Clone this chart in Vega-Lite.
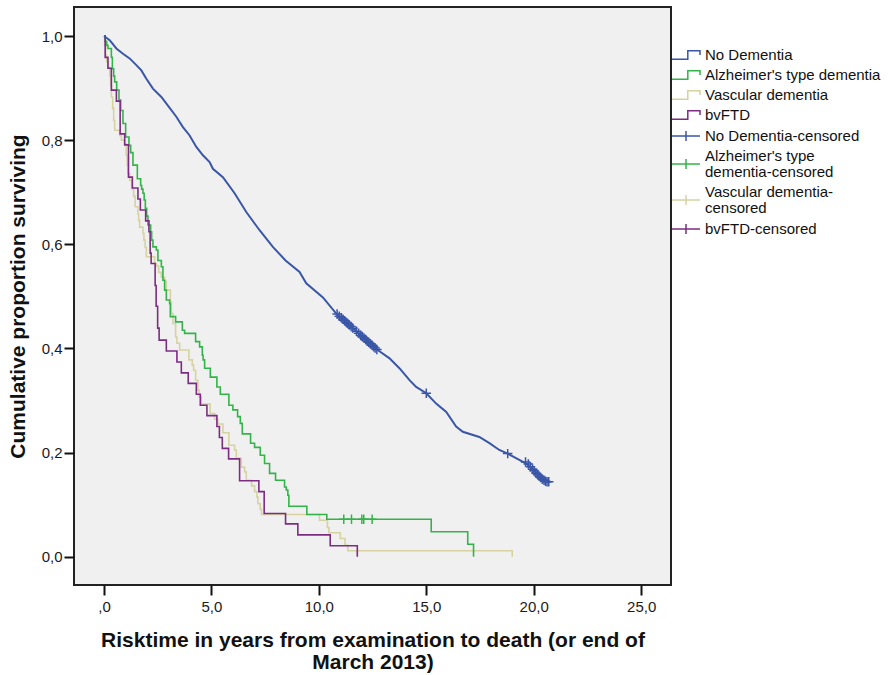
{
  "$schema": "https://vega.github.io/schema/vega-lite/v6.json",
  "autosize": {"type": "none"},
  "width": 597,
  "height": 578,
  "padding": {"left": 74, "top": 7, "right": 225, "bottom": 90},
  "background": "white",
  "config": {
    "view": {"fill": "#F0F0F0", "stroke": "#222222", "strokeWidth": 2},
    "font": "Liberation Sans",
    "axis": {
      "grid": false,
      "domain": false,
      "tickColor": "#111111",
      "tickWidth": 2,
      "tickSize": 10,
      "labelFont": "Liberation Sans",
      "labelFontSize": 15,
      "labelColor": "#1a1a1a",
      "titleFont": "Liberation Sans",
      "titleFontSize": 21,
      "titleFontWeight": "bold",
      "titleColor": "#111111"
    }
  },
  "datasets": {
    "curves": [
      {"grp": "Vascular dementia", "t": 0, "s": 1.0},
      {"grp": "Vascular dementia", "t": 0.033, "s": 0.982},
      {"grp": "Vascular dementia", "t": 0.079, "s": 0.963},
      {"grp": "Vascular dementia", "t": 0.126, "s": 0.950},
      {"grp": "Vascular dementia", "t": 0.186, "s": 0.940},
      {"grp": "Vascular dementia", "t": 0.265, "s": 0.924},
      {"grp": "Vascular dementia", "t": 0.312, "s": 0.905},
      {"grp": "Vascular dementia", "t": 0.344, "s": 0.883},
      {"grp": "Vascular dementia", "t": 0.405, "s": 0.861},
      {"grp": "Vascular dementia", "t": 0.451, "s": 0.838},
      {"grp": "Vascular dementia", "t": 0.498, "s": 0.819},
      {"grp": "Vascular dementia", "t": 0.730, "s": 0.809},
      {"grp": "Vascular dementia", "t": 0.809, "s": 0.800},
      {"grp": "Vascular dementia", "t": 0.963, "s": 0.793},
      {"grp": "Vascular dementia", "t": 1.033, "s": 0.771},
      {"grp": "Vascular dementia", "t": 1.079, "s": 0.752},
      {"grp": "Vascular dementia", "t": 1.116, "s": 0.736},
      {"grp": "Vascular dementia", "t": 1.195, "s": 0.723},
      {"grp": "Vascular dementia", "t": 1.288, "s": 0.707},
      {"grp": "Vascular dementia", "t": 1.381, "s": 0.692},
      {"grp": "Vascular dementia", "t": 1.451, "s": 0.672},
      {"grp": "Vascular dementia", "t": 1.581, "s": 0.658},
      {"grp": "Vascular dementia", "t": 1.614, "s": 0.646},
      {"grp": "Vascular dementia", "t": 1.660, "s": 0.633},
      {"grp": "Vascular dementia", "t": 1.814, "s": 0.621},
      {"grp": "Vascular dementia", "t": 1.860, "s": 0.608},
      {"grp": "Vascular dementia", "t": 1.916, "s": 0.594},
      {"grp": "Vascular dementia", "t": 1.972, "s": 0.576},
      {"grp": "Vascular dementia", "t": 2.358, "s": 0.563},
      {"grp": "Vascular dementia", "t": 2.437, "s": 0.558},
      {"grp": "Vascular dementia", "t": 2.544, "s": 0.546},
      {"grp": "Vascular dementia", "t": 2.670, "s": 0.537},
      {"grp": "Vascular dementia", "t": 2.823, "s": 0.529},
      {"grp": "Vascular dementia", "t": 2.902, "s": 0.512},
      {"grp": "Vascular dementia", "t": 3.088, "s": 0.489},
      {"grp": "Vascular dementia", "t": 3.135, "s": 0.467},
      {"grp": "Vascular dementia", "t": 3.209, "s": 0.448},
      {"grp": "Vascular dementia", "t": 3.335, "s": 0.422},
      {"grp": "Vascular dementia", "t": 3.395, "s": 0.410},
      {"grp": "Vascular dementia", "t": 3.521, "s": 0.397},
      {"grp": "Vascular dementia", "t": 3.953, "s": 0.378},
      {"grp": "Vascular dementia", "t": 4.112, "s": 0.368},
      {"grp": "Vascular dementia", "t": 4.172, "s": 0.358},
      {"grp": "Vascular dementia", "t": 4.265, "s": 0.339},
      {"grp": "Vascular dementia", "t": 4.372, "s": 0.320},
      {"grp": "Vascular dementia", "t": 4.428, "s": 0.307},
      {"grp": "Vascular dementia", "t": 4.530, "s": 0.293},
      {"grp": "Vascular dementia", "t": 4.940, "s": 0.275},
      {"grp": "Vascular dementia", "t": 5.149, "s": 0.264},
      {"grp": "Vascular dementia", "t": 5.302, "s": 0.255},
      {"grp": "Vascular dementia", "t": 5.535, "s": 0.238},
      {"grp": "Vascular dementia", "t": 5.814, "s": 0.214},
      {"grp": "Vascular dementia", "t": 6.079, "s": 0.205},
      {"grp": "Vascular dementia", "t": 6.158, "s": 0.189},
      {"grp": "Vascular dementia", "t": 6.391, "s": 0.172},
      {"grp": "Vascular dementia", "t": 6.544, "s": 0.163},
      {"grp": "Vascular dementia", "t": 6.623, "s": 0.147},
      {"grp": "Vascular dementia", "t": 6.870, "s": 0.136},
      {"grp": "Vascular dementia", "t": 7.009, "s": 0.125},
      {"grp": "Vascular dementia", "t": 7.116, "s": 0.115},
      {"grp": "Vascular dementia", "t": 7.163, "s": 0.102},
      {"grp": "Vascular dementia", "t": 7.274, "s": 0.091},
      {"grp": "Vascular dementia", "t": 7.335, "s": 0.081},
      {"grp": "Vascular dementia", "t": 10.03, "s": 0.070},
      {"grp": "Vascular dementia", "t": 10.40, "s": 0.056},
      {"grp": "Vascular dementia", "t": 10.47, "s": 0.046},
      {"grp": "Vascular dementia", "t": 11.0, "s": 0.035},
      {"grp": "Vascular dementia", "t": 11.22, "s": 0.022},
      {"grp": "Vascular dementia", "t": 11.35, "s": 0.0115},
      {"grp": "Vascular dementia", "t": 19.0, "s": 0.0},

      {"grp": "Alzheimer's type dementia", "t": 0, "s": 1.0},
      {"grp": "Alzheimer's type dementia", "t": 0.056, "s": 0.990},
      {"grp": "Alzheimer's type dementia", "t": 0.126, "s": 0.982},
      {"grp": "Alzheimer's type dementia", "t": 0.186, "s": 0.976},
      {"grp": "Alzheimer's type dementia", "t": 0.344, "s": 0.959},
      {"grp": "Alzheimer's type dementia", "t": 0.391, "s": 0.937},
      {"grp": "Alzheimer's type dementia", "t": 0.451, "s": 0.923},
      {"grp": "Alzheimer's type dementia", "t": 0.498, "s": 0.912},
      {"grp": "Alzheimer's type dementia", "t": 0.591, "s": 0.896},
      {"grp": "Alzheimer's type dementia", "t": 0.698, "s": 0.877},
      {"grp": "Alzheimer's type dementia", "t": 0.777, "s": 0.857},
      {"grp": "Alzheimer's type dementia", "t": 0.884, "s": 0.832},
      {"grp": "Alzheimer's type dementia", "t": 1.009, "s": 0.806},
      {"grp": "Alzheimer's type dementia", "t": 1.163, "s": 0.790},
      {"grp": "Alzheimer's type dementia", "t": 1.242, "s": 0.776},
      {"grp": "Alzheimer's type dementia", "t": 1.349, "s": 0.752},
      {"grp": "Alzheimer's type dementia", "t": 1.553, "s": 0.726},
      {"grp": "Alzheimer's type dementia", "t": 1.707, "s": 0.713},
      {"grp": "Alzheimer's type dementia", "t": 1.753, "s": 0.706},
      {"grp": "Alzheimer's type dementia", "t": 1.814, "s": 0.698},
      {"grp": "Alzheimer's type dementia", "t": 1.870, "s": 0.685},
      {"grp": "Alzheimer's type dementia", "t": 1.926, "s": 0.669},
      {"grp": "Alzheimer's type dementia", "t": 1.986, "s": 0.654},
      {"grp": "Alzheimer's type dementia", "t": 2.047, "s": 0.637},
      {"grp": "Alzheimer's type dementia", "t": 2.172, "s": 0.624},
      {"grp": "Alzheimer's type dementia", "t": 2.219, "s": 0.608},
      {"grp": "Alzheimer's type dementia", "t": 2.279, "s": 0.595},
      {"grp": "Alzheimer's type dementia", "t": 2.437, "s": 0.589},
      {"grp": "Alzheimer's type dementia", "t": 2.512, "s": 0.569},
      {"grp": "Alzheimer's type dementia", "t": 2.670, "s": 0.557},
      {"grp": "Alzheimer's type dementia", "t": 2.744, "s": 0.531},
      {"grp": "Alzheimer's type dementia", "t": 2.823, "s": 0.512},
      {"grp": "Alzheimer's type dementia", "t": 2.902, "s": 0.493},
      {"grp": "Alzheimer's type dementia", "t": 3.056, "s": 0.486},
      {"grp": "Alzheimer's type dementia", "t": 3.088, "s": 0.461},
      {"grp": "Alzheimer's type dementia", "t": 3.335, "s": 0.451},
      {"grp": "Alzheimer's type dementia", "t": 3.647, "s": 0.435},
      {"grp": "Alzheimer's type dementia", "t": 3.753, "s": 0.429},
      {"grp": "Alzheimer's type dementia", "t": 4.265, "s": 0.413},
      {"grp": "Alzheimer's type dementia", "t": 4.451, "s": 0.403},
      {"grp": "Alzheimer's type dementia", "t": 4.577, "s": 0.387},
      {"grp": "Alzheimer's type dementia", "t": 4.614, "s": 0.378},
      {"grp": "Alzheimer's type dementia", "t": 4.684, "s": 0.362},
      {"grp": "Alzheimer's type dementia", "t": 4.949, "s": 0.345},
      {"grp": "Alzheimer's type dementia", "t": 5.256, "s": 0.326},
      {"grp": "Alzheimer's type dementia", "t": 5.414, "s": 0.312},
      {"grp": "Alzheimer's type dementia", "t": 5.814, "s": 0.291},
      {"grp": "Alzheimer's type dementia", "t": 6.0, "s": 0.282},
      {"grp": "Alzheimer's type dementia", "t": 6.219, "s": 0.269},
      {"grp": "Alzheimer's type dementia", "t": 6.344, "s": 0.256},
      {"grp": "Alzheimer's type dementia", "t": 6.437, "s": 0.236},
      {"grp": "Alzheimer's type dementia", "t": 6.823, "s": 0.218},
      {"grp": "Alzheimer's type dementia", "t": 7.009, "s": 0.210},
      {"grp": "Alzheimer's type dementia", "t": 7.274, "s": 0.195},
      {"grp": "Alzheimer's type dementia", "t": 7.474, "s": 0.179},
      {"grp": "Alzheimer's type dementia", "t": 7.707, "s": 0.160},
      {"grp": "Alzheimer's type dementia", "t": 7.986, "s": 0.147},
      {"grp": "Alzheimer's type dementia", "t": 8.405, "s": 0.134},
      {"grp": "Alzheimer's type dementia", "t": 8.484, "s": 0.128},
      {"grp": "Alzheimer's type dementia", "t": 8.558, "s": 0.118},
      {"grp": "Alzheimer's type dementia", "t": 8.605, "s": 0.097},
      {"grp": "Alzheimer's type dementia", "t": 9.442, "s": 0.081},
      {"grp": "Alzheimer's type dementia", "t": 10.37, "s": 0.072},
      {"grp": "Alzheimer's type dementia", "t": 15.23, "s": 0.048},
      {"grp": "Alzheimer's type dementia", "t": 16.93, "s": 0.024},
      {"grp": "Alzheimer's type dementia", "t": 17.20, "s": 0.0},

      {"grp": "bvFTD", "t": 0, "s": 1.0},
      {"grp": "bvFTD", "t": 0.056, "s": 0.959},
      {"grp": "bvFTD", "t": 0.186, "s": 0.938},
      {"grp": "bvFTD", "t": 0.344, "s": 0.896},
      {"grp": "bvFTD", "t": 0.577, "s": 0.875},
      {"grp": "bvFTD", "t": 0.753, "s": 0.812},
      {"grp": "bvFTD", "t": 0.963, "s": 0.791},
      {"grp": "bvFTD", "t": 1.140, "s": 0.729},
      {"grp": "bvFTD", "t": 1.321, "s": 0.708},
      {"grp": "bvFTD", "t": 1.581, "s": 0.687},
      {"grp": "bvFTD", "t": 1.693, "s": 0.666},
      {"grp": "bvFTD", "t": 1.940, "s": 0.645},
      {"grp": "bvFTD", "t": 2.093, "s": 0.624},
      {"grp": "bvFTD", "t": 2.149, "s": 0.583},
      {"grp": "bvFTD", "t": 2.195, "s": 0.563},
      {"grp": "bvFTD", "t": 2.381, "s": 0.521},
      {"grp": "bvFTD", "t": 2.428, "s": 0.481},
      {"grp": "bvFTD", "t": 2.498, "s": 0.439},
      {"grp": "bvFTD", "t": 2.567, "s": 0.416},
      {"grp": "bvFTD", "t": 2.902, "s": 0.395},
      {"grp": "bvFTD", "t": 3.395, "s": 0.374},
      {"grp": "bvFTD", "t": 3.600, "s": 0.353},
      {"grp": "bvFTD", "t": 3.921, "s": 0.333},
      {"grp": "bvFTD", "t": 4.298, "s": 0.312},
      {"grp": "bvFTD", "t": 4.484, "s": 0.291},
      {"grp": "bvFTD", "t": 4.791, "s": 0.271},
      {"grp": "bvFTD", "t": 5.256, "s": 0.250},
      {"grp": "bvFTD", "t": 5.372, "s": 0.229},
      {"grp": "bvFTD", "t": 5.507, "s": 0.208},
      {"grp": "bvFTD", "t": 5.800, "s": 0.188},
      {"grp": "bvFTD", "t": 6.312, "s": 0.146},
      {"grp": "bvFTD", "t": 7.209, "s": 0.125},
      {"grp": "bvFTD", "t": 7.456, "s": 0.083},
      {"grp": "bvFTD", "t": 8.451, "s": 0.063},
      {"grp": "bvFTD", "t": 9.023, "s": 0.042},
      {"grp": "bvFTD", "t": 10.53, "s": 0.021},
      {"grp": "bvFTD", "t": 11.79, "s": 0.0},

      {"grp": "No Dementia", "t": 0, "s": 1.0},
      {"grp": "No Dementia", "t": 0.265, "s": 0.992},
      {"grp": "No Dementia", "t": 0.577, "s": 0.976},
      {"grp": "No Dementia", "t": 0.884, "s": 0.966},
      {"grp": "No Dementia", "t": 1.195, "s": 0.957},
      {"grp": "No Dementia", "t": 1.507, "s": 0.944},
      {"grp": "No Dementia", "t": 1.740, "s": 0.934},
      {"grp": "No Dementia", "t": 1.972, "s": 0.918},
      {"grp": "No Dementia", "t": 2.279, "s": 0.899},
      {"grp": "No Dementia", "t": 2.670, "s": 0.883},
      {"grp": "No Dementia", "t": 3.056, "s": 0.862},
      {"grp": "No Dementia", "t": 3.367, "s": 0.845},
      {"grp": "No Dementia", "t": 3.674, "s": 0.825},
      {"grp": "No Dementia", "t": 3.986, "s": 0.809},
      {"grp": "No Dementia", "t": 4.298, "s": 0.787},
      {"grp": "No Dementia", "t": 4.605, "s": 0.771},
      {"grp": "No Dementia", "t": 4.916, "s": 0.758},
      {"grp": "No Dementia", "t": 5.070, "s": 0.745},
      {"grp": "No Dementia", "t": 5.535, "s": 0.729},
      {"grp": "No Dementia", "t": 6.079, "s": 0.698},
      {"grp": "No Dementia", "t": 6.623, "s": 0.662},
      {"grp": "No Dementia", "t": 7.242, "s": 0.627},
      {"grp": "No Dementia", "t": 7.860, "s": 0.595},
      {"grp": "No Dementia", "t": 8.451, "s": 0.569},
      {"grp": "No Dementia", "t": 9.102, "s": 0.547},
      {"grp": "No Dementia", "t": 9.414, "s": 0.525},
      {"grp": "No Dementia", "t": 10.19, "s": 0.498},
      {"grp": "No Dementia", "t": 10.81, "s": 0.467},
      {"grp": "No Dementia", "t": 11.75, "s": 0.433},
      {"grp": "No Dementia", "t": 12.74, "s": 0.397},
      {"grp": "No Dementia", "t": 13.29, "s": 0.381},
      {"grp": "No Dementia", "t": 13.75, "s": 0.362},
      {"grp": "No Dementia", "t": 14.22, "s": 0.339},
      {"grp": "No Dementia", "t": 14.53, "s": 0.326},
      {"grp": "No Dementia", "t": 15.0, "s": 0.314},
      {"grp": "No Dementia", "t": 15.46, "s": 0.294},
      {"grp": "No Dementia", "t": 15.93, "s": 0.278},
      {"grp": "No Dementia", "t": 16.39, "s": 0.250},
      {"grp": "No Dementia", "t": 16.70, "s": 0.240},
      {"grp": "No Dementia", "t": 17.47, "s": 0.230},
      {"grp": "No Dementia", "t": 17.94, "s": 0.218},
      {"grp": "No Dementia", "t": 18.40, "s": 0.205},
      {"grp": "No Dementia", "t": 18.79, "s": 0.198},
      {"grp": "No Dementia", "t": 19.33, "s": 0.186},
      {"grp": "No Dementia", "t": 19.65, "s": 0.179},
      {"grp": "No Dementia", "t": 20.58, "s": 0.144},
      {"grp": "No Dementia", "t": 20.78, "s": 0.144}
    ],
    "censored": [
      {"grp": "Alzheimer's type dementia-censored", "t": 11.16, "s": 0.072},
      {"grp": "Alzheimer's type dementia-censored", "t": 11.52, "s": 0.072},
      {"grp": "Alzheimer's type dementia-censored", "t": 12.0, "s": 0.072},
      {"grp": "Alzheimer's type dementia-censored", "t": 12.09, "s": 0.072},
      {"grp": "Alzheimer's type dementia-censored", "t": 12.48, "s": 0.072},
      {"grp": "No Dementia-censored", "t": 10.85, "s": 0.466},
      {"grp": "No Dementia-censored", "t": 10.95, "s": 0.462},
      {"grp": "No Dementia-censored", "t": 11.05, "s": 0.459},
      {"grp": "No Dementia-censored", "t": 11.12, "s": 0.456},
      {"grp": "No Dementia-censored", "t": 11.2, "s": 0.453},
      {"grp": "No Dementia-censored", "t": 11.28, "s": 0.450},
      {"grp": "No Dementia-censored", "t": 11.35, "s": 0.448},
      {"grp": "No Dementia-censored", "t": 11.42, "s": 0.445},
      {"grp": "No Dementia-censored", "t": 11.5, "s": 0.442},
      {"grp": "No Dementia-censored", "t": 11.58, "s": 0.439},
      {"grp": "No Dementia-censored", "t": 11.75, "s": 0.433},
      {"grp": "No Dementia-censored", "t": 11.85, "s": 0.429},
      {"grp": "No Dementia-censored", "t": 11.95, "s": 0.425},
      {"grp": "No Dementia-censored", "t": 12.02, "s": 0.423},
      {"grp": "No Dementia-censored", "t": 12.1, "s": 0.420},
      {"grp": "No Dementia-censored", "t": 12.18, "s": 0.417},
      {"grp": "No Dementia-censored", "t": 12.25, "s": 0.414},
      {"grp": "No Dementia-censored", "t": 12.32, "s": 0.412},
      {"grp": "No Dementia-censored", "t": 12.4, "s": 0.409},
      {"grp": "No Dementia-censored", "t": 12.48, "s": 0.406},
      {"grp": "No Dementia-censored", "t": 12.55, "s": 0.403},
      {"grp": "No Dementia-censored", "t": 12.62, "s": 0.401},
      {"grp": "No Dementia-censored", "t": 12.7, "s": 0.398},
      {"grp": "No Dementia-censored", "t": 15.0, "s": 0.314},
      {"grp": "No Dementia-censored", "t": 18.79, "s": 0.198},
      {"grp": "No Dementia-censored", "t": 19.62, "s": 0.182},
      {"grp": "No Dementia-censored", "t": 19.75, "s": 0.178},
      {"grp": "No Dementia-censored", "t": 19.85, "s": 0.173},
      {"grp": "No Dementia-censored", "t": 19.95, "s": 0.168},
      {"grp": "No Dementia-censored", "t": 20.02, "s": 0.165},
      {"grp": "No Dementia-censored", "t": 20.1, "s": 0.161},
      {"grp": "No Dementia-censored", "t": 20.18, "s": 0.158},
      {"grp": "No Dementia-censored", "t": 20.25, "s": 0.155},
      {"grp": "No Dementia-censored", "t": 20.32, "s": 0.152},
      {"grp": "No Dementia-censored", "t": 20.4, "s": 0.149},
      {"grp": "No Dementia-censored", "t": 20.48, "s": 0.147},
      {"grp": "No Dementia-censored", "t": 20.55, "s": 0.145},
      {"grp": "No Dementia-censored", "t": 20.62, "s": 0.144},
      {"grp": "No Dementia-censored", "t": 20.7, "s": 0.144}
    ]
  },
  "encoding": {
    "x": {
      "field": "t", "type": "quantitative",
      "scale": {"domain": [-1.395, 26.39], "nice": false, "zero": false},
      "axis": {
        "values": [0, 5, 10, 15, 20, 25],
        "labelExpr": "datum.value == 0 ? ',0' : replace(format(datum.value, '.1f'), '.', ',')",
        "labelPadding": 4,
        "title": ["Risktime in years from examination to death (or end of", "March 2013)"],
        "titleLineHeight": 22,
        "titlePadding": 15
      }
    },
    "y": {
      "field": "s", "type": "quantitative",
      "scale": {"domain": [-0.0543, 1.0557], "nice": false, "zero": false},
      "axis": {
        "values": [0, 0.2, 0.4, 0.6, 0.8, 1.0],
        "labelExpr": "replace(format(datum.value, '.1f'), '.', ',')",
        "labelPadding": 2,
        "title": "Cumulative proportion surviving",
        "titlePadding": 13
      }
    },
    "color": {
      "field": "grp", "type": "nominal",
      "scale": {
        "domain": ["No Dementia", "Alzheimer's type dementia", "Vascular dementia", "bvFTD", "No Dementia-censored", "Alzheimer's type dementia-censored", "Vascular dementia-censored", "bvFTD-censored"],
        "range": ["#3A56A7", "#33B44A", "#D6D2A2", "#7D2C83", "#3A56A7", "#33B44A", "#D6D2A2", "#7D2C83"]
      },
      "legend": {
        "title": null,
        "orient": "none",
        "direction": "vertical",
        "columns": 1,
        "legendX": 604.5,
        "legendY": 40.5,
        "padding": 0,
        "symbolSize": 100,
        "symbolStrokeWidth": 1.5,
        "labelFont": "Liberation Sans",
        "labelFontSize": 15,
        "labelColor": "#111111",
        "labelLimit": 300,
        "labelOffset": 11.5,
        "rowPadding": 4,
        "labelExpr": "datum.label == \"Alzheimer's type dementia-censored\" ? [\"Alzheimer's type\", 'dementia-censored'] : (datum.label == 'Vascular dementia-censored' ? ['Vascular dementia-', 'censored'] : datum.label)",
        "encode": {
          "symbols": {
            "update": {
              "shape": {"signal": "indexof(datum.value, 'censored') >= 0 ? 'M -2.8 0 H 2.8 M 0 -1.0 V 1.0' : 'M -2.8 0.87 H 0.36 V -0.87 H 2.8 V 0'"},
              "size": {"value": 100},
              "fill": {"value": "transparent"},
              "stroke": {"scale": "color", "field": "value"},
              "strokeWidth": {"value": 1.5},
              "opacity": {"value": 1}
            }
          },
          "labels": {
            "update": {
              "lineHeight": {"value": 16},
              "dy": {"signal": "(datum.value == \"Alzheimer's type dementia-censored\" || datum.value == 'Vascular dementia-censored') ? -8 : 0"}
            }
          }
        }
      }
    }
  },
  "layer": [
    {
      "data": {"name": "curves"},
      "transform": [{"filter": "datum.grp != 'No Dementia'"}],
      "mark": {"type": "line", "interpolate": "step-after", "strokeWidth": 1.6}
    },
    {
      "data": {"name": "curves"},
      "transform": [{"filter": "datum.grp == 'No Dementia'"}],
      "mark": {"type": "line", "interpolate": "linear", "strokeWidth": 2}
    },
    {
      "data": {"name": "censored"},
      "mark": {"type": "point", "shape": "M -1 0 H 1 M 0 -1 V 1", "size": 90, "filled": false, "strokeWidth": 1.5, "opacity": 1}
    }
  ]
}
